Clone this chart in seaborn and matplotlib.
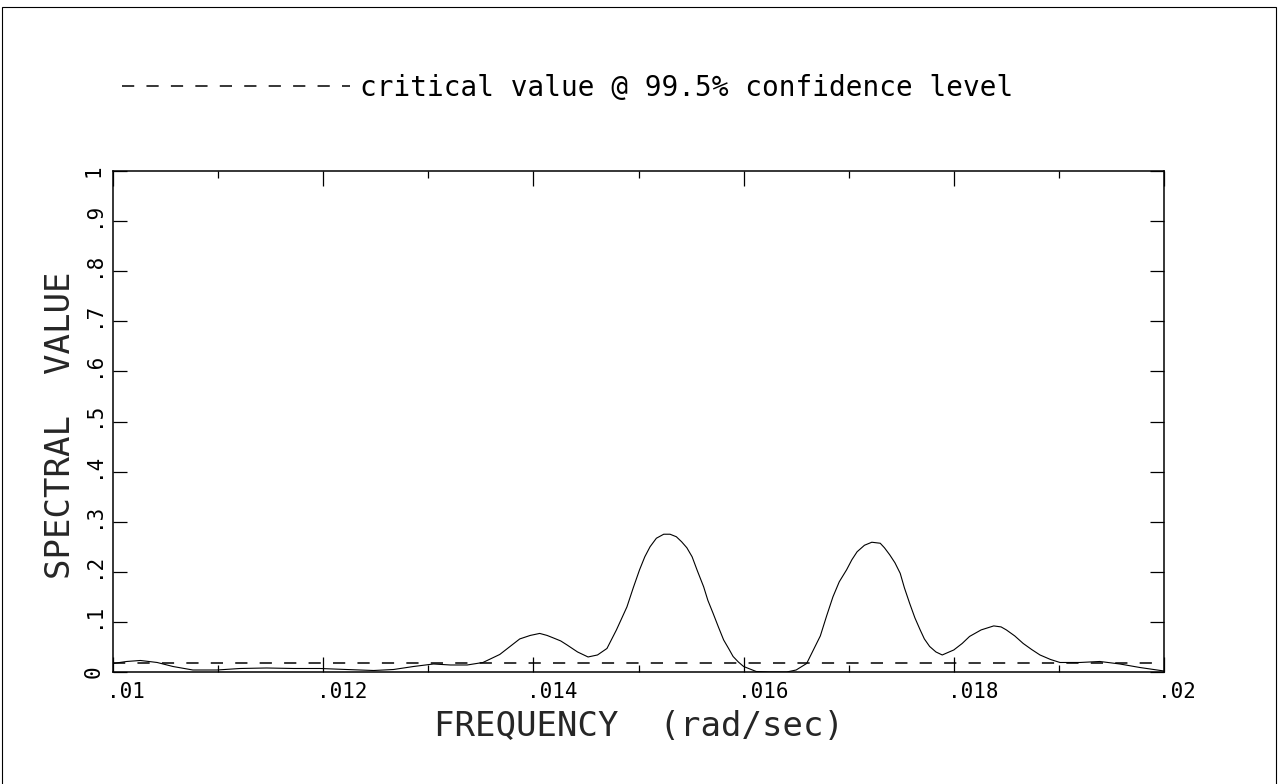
import matplotlib
matplotlib.use("Agg")
import matplotlib.pyplot as plt
import matplotlib.transforms as mtransforms
from matplotlib.patches import Rectangle
from matplotlib.ticker import FixedLocator, MultipleLocator
import pandas as pd
import seaborn as sns

# Spectral estimate versus frequency (rad/sec)
frequency = [
    0.01000, 0.01013, 0.01026, 0.01042, 0.01057, 0.01076, 0.01099, 0.01121,
    0.01146, 0.01172, 0.01197, 0.01222, 0.01248, 0.01267, 0.01286, 0.01305,
    0.01321, 0.01337, 0.01352, 0.01368, 0.01387, 0.01397, 0.01406, 0.01413,
    0.01419, 0.01426, 0.01432, 0.01442, 0.01452, 0.01461, 0.01470, 0.01479,
    0.01489, 0.01495, 0.01501, 0.01506, 0.01511, 0.01517, 0.01524, 0.01530,
    0.01536, 0.01541, 0.01546, 0.01551, 0.01556, 0.01562, 0.01566, 0.01571,
    0.01576, 0.01581, 0.01586, 0.01590, 0.01595, 0.01600, 0.01612, 0.01625,
    0.01641, 0.01650, 0.01660, 0.01673, 0.01679, 0.01685, 0.01691, 0.01698,
    0.01703, 0.01708, 0.01715, 0.01722, 0.01730, 0.01734, 0.01739, 0.01744,
    0.01749, 0.01753, 0.01758, 0.01763, 0.01768, 0.01772, 0.01777, 0.01783,
    0.01789, 0.01800, 0.01808, 0.01815, 0.01826, 0.01838, 0.01845, 0.01850,
    0.01858, 0.01866, 0.01874, 0.01882, 0.01892, 0.01901, 0.01920, 0.01939,
    0.01958, 0.01977, 0.02000,
]
spectral_value = [
    0.017, 0.021, 0.023, 0.019, 0.011, 0.004, 0.004, 0.007,
    0.008, 0.007, 0.007, 0.005, 0.003, 0.005, 0.011, 0.016,
    0.014, 0.014, 0.019, 0.035, 0.066, 0.073, 0.077, 0.073,
    0.068, 0.062, 0.054, 0.040, 0.030, 0.034, 0.047, 0.084,
    0.130, 0.168, 0.204, 0.230, 0.250, 0.267, 0.275, 0.275,
    0.270, 0.260, 0.248, 0.230, 0.202, 0.170, 0.143, 0.117,
    0.090, 0.064, 0.046, 0.031, 0.020, 0.011, 0.001, 0.000,
    0.000, 0.004, 0.017, 0.072, 0.112, 0.150, 0.180, 0.204,
    0.224, 0.240, 0.253, 0.259, 0.257, 0.248, 0.234, 0.218,
    0.197, 0.168, 0.137, 0.108, 0.084, 0.066, 0.051, 0.040,
    0.034, 0.044, 0.057, 0.071, 0.084, 0.092, 0.090, 0.084,
    0.072, 0.057, 0.045, 0.034, 0.025, 0.019, 0.019, 0.021,
    0.016, 0.009, 0.002,
]
critical_value = 0.017
x_range = [0.010, 0.020]

x_ticks = [0.010, 0.012, 0.014, 0.016, 0.018, 0.020]
x_tick_labels = [".01", ".012", ".014", ".016", ".018", ".02"]
y_ticks = [0.0, 0.1, 0.2, 0.3, 0.4, 0.5, 0.6, 0.7, 0.8, 0.9, 1.0]
y_tick_labels = ["0", ".1", ".2", ".3", ".4", ".5", ".6", ".7", ".8", ".9", "1"]

legend_label = "critical value @ 99.5% confidence level"
x_label = "FREQUENCY  (rad/sec)"
y_label = "SPECTRAL  VALUE"

sns.set_theme(style="white")
plt.rcParams["font.family"] = ["DejaVu Sans Mono", "DejaVu Sans"]
plt.rcParams["text.color"] = "black"
plt.rcParams["axes.edgecolor"] = "black"
plt.rcParams["xtick.color"] = "black"
plt.rcParams["ytick.color"] = "black"

W, H = 1278, 784
fig = plt.figure(figsize=(W / 100, H / 100), dpi=100)
fig.patch.set_facecolor("white")

left, right, top, bottom = 113, 1164, 171, 672
ax = fig.add_axes([left / W, 1 - bottom / H, (right - left) / W, (bottom - top) / H])

spec_df = pd.DataFrame({"frequency": frequency, "spectral": spectral_value})
sns.lineplot(data=spec_df, x="frequency", y="spectral", ax=ax,
             color="black", linewidth=0.8, sort=True)

crit_df = pd.DataFrame({"frequency": x_range,
                        "critical": [critical_value] * len(x_range)})
sns.lineplot(data=crit_df, x="frequency", y="critical", ax=ax,
             color="black", linewidth=1.1)
crit_line = ax.lines[-1]
crit_line.set_dashes((8, 8))

ax.set_xlim(*x_range)
ax.set_ylim(0, 1)

for side in ["left", "right", "top", "bottom"]:
    ax.spines[side].set_visible(True)
    ax.spines[side].set_linewidth(1.1)
    ax.spines[side].set_color("black")

ax.xaxis.set_major_locator(FixedLocator(x_ticks))
ax.set_xticklabels(x_tick_labels)
ax.xaxis.set_minor_locator(MultipleLocator(0.001))
ax.yaxis.set_major_locator(FixedLocator(y_ticks))
ax.set_yticklabels(y_tick_labels)

ax.tick_params(axis="x", which="major", direction="in", length=10.8, width=0.9,
               top=True, bottom=True, labelsize=15, pad=7)
ax.tick_params(axis="x", which="minor", direction="in", length=5, width=0.9,
               top=True, bottom=True)
ax.tick_params(axis="y", which="major", direction="in", length=10, width=0.9,
               left=True, right=True, labelsize=15, pad=7)

# tick labels start at the tick: the first character is centred on it
shift_x = mtransforms.ScaledTranslation(-6 / 100, 0, fig.dpi_scale_trans)
for lbl in ax.get_xticklabels():
    lbl.set_ha("left")
    lbl.set_transform(lbl.get_transform() + shift_x)

shift_y = mtransforms.ScaledTranslation(0, -6 / 100, fig.dpi_scale_trans)
for lbl in ax.get_yticklabels():
    lbl.set_rotation(90)
    lbl.set_ha("right")
    lbl.set_va("bottom")
    lbl.set_transform(lbl.get_transform() + shift_y)

ax.set_xlabel(x_label, fontsize=24.5)
ax.xaxis.label.set_va("center")
ax.xaxis.set_label_coords(0.5, -(727 - bottom) / (bottom - top))

ax.set_ylabel(y_label, fontsize=24.5)
ax.yaxis.label.set_va("center")
ax.yaxis.set_label_coords((61 - left) / (right - left), (bottom - 425) / (bottom - top))

ax.legend([crit_line], [legend_label], loc="center left",
          bbox_to_anchor=(122 / W, 1 - 88 / H), bbox_transform=fig.transFigure,
          frameon=False, fontsize=20, handlelength=8.2, handletextpad=0.36,
          borderpad=0, borderaxespad=0)

# page frame
fig.add_artist(Rectangle((2 / W, -0.02), (1276 - 2) / W, 1.02 - 7 / H,
                         transform=fig.transFigure, fill=False,
                         edgecolor="black", linewidth=0.8))

fig.savefig("out.png", dpi=100, facecolor="white")
